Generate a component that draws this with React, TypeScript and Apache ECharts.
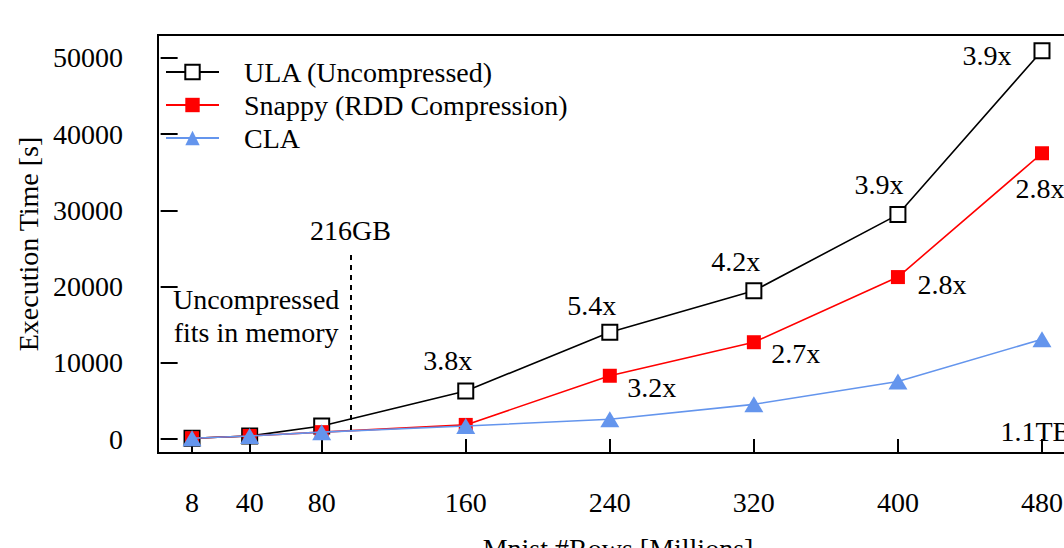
import React, { useEffect, useRef } from "react";
import * as echarts from "echarts";

const rows = [8, 40, 80, 160, 240, 320, 400, 480];
const ulaTimes = [100, 400, 1700, 6300, 14000, 19450, 29450, 50950];
const snappyTimes = [100, 400, 900, 1850, 8300, 12700, 21250, 37500];
const claTimes = [100, 400, 900, 1700, 2600, 4550, 7550, 13100];
const ulaSpeedups = ["", "", "", "3.8x", "5.4x", "4.2x", "3.9x", "3.9x"];
const snappySpeedups = ["", "", "", "", "3.2x", "2.7x", "2.8x", "2.8x"];
const yTicks = [0, 10000, 20000, 30000, 40000, 50000];
const seriesNames = ["ULA (Uncompressed)", "Snappy (RDD Compression)", "CLA"];
const memoryLimitRows = 96;
const memoryLimitLabel = "216GB";
const memoryNote = "Uncompressed\nfits in memory";
const sizeNote = "1.1TB";

const FONT = "Liberation Serif";
const ulaOffsets: number[][] = [[0, 0], [0, 0], [0, 0], [-18, -30], [-18, -27], [-18, -29], [-19, -30], [-55, 5]];
const snappyOffsets: number[][] = [[0, 0], [0, 0], [0, 0], [0, 0], [42, 12], [42, 11], [44, 7], [-2, 35]];

function points(vals: number[], texts: string[], offsets: number[][]) {
  return rows.map((x, i) => ({
    value: [x, vals[i]],
    label: texts[i]
      ? {
          show: true,
          formatter: texts[i],
          position: "inside",
          offset: offsets[i],
          align: "center",
          verticalAlign: "middle",
          color: "#000",
          fontSize: 28,
          fontFamily: FONT,
        }
      : { show: false },
  }));
}

export default function App() {
  const ref = useRef<HTMLDivElement>(null);
  useEffect(() => {
    if (!ref.current) return;
    const chart = echarts.init(ref.current, null, { renderer: "svg" });
    const textStyle = { color: "#000", fontSize: 28, fontFamily: FONT };
    chart.setOption({
      animation: false,
      backgroundColor: "#fff",
      textStyle: { fontFamily: FONT },
      grid: {
        left: 158,
        top: 35,
        width: 920,
        height: 418,
        outerBoundsMode: "none",
        containLabel: false,
        show: true,
        borderColor: "#000",
        borderWidth: 2,
        backgroundColor: "transparent",
      },
      legend: {
        data: seriesNames,
        left: 165,
        top: 58,
        orient: "vertical",
        padding: 0,
        itemWidth: 53,
        itemHeight: 18,
        itemGap: 5,
        textStyle: { ...textStyle, lineHeight: 28, padding: [0, 0, 0, 20] },
      },
      xAxis: {
        type: "value",
        min: -10.9,
        max: 500,
        offset: 3,
        name: "Mnist #Rows [Millions]",
        nameLocation: "middle",
        nameGap: 78,
        nameTextStyle: textStyle,
        axisLine: { show: false },
        axisTick: { show: true, length: 15, lineStyle: { color: "#000", width: 2 }, customValues: rows },
        axisLabel: { ...textStyle, margin: 32, customValues: rows, formatter: (v: number) => String(v) },
        splitLine: { show: false },
      },
      yAxis: {
        type: "value",
        min: -1837,
        max: 53018,
        name: "Execution Time [s]",
        nameLocation: "middle",
        nameGap: 116,
        nameTextStyle: textStyle,
        axisLine: { show: false },
        axisTick: { show: true, length: 17, lineStyle: { color: "#000", width: 2 }, customValues: yTicks },
        axisLabel: { ...textStyle, margin: 35, customValues: yTicks, formatter: (v: number) => String(v) },
        splitLine: { show: false },
      },
      series: [
        {
          name: seriesNames[0],
          type: "line",
          data: points(ulaTimes, ulaSpeedups, ulaOffsets),
          symbol: "emptyRect",
          symbolSize: 15,
          lineStyle: { color: "#000", width: 1.6 },
          itemStyle: { color: "#000", borderWidth: 2 },
          z: 2,
        },
        {
          name: seriesNames[1],
          type: "line",
          data: points(snappyTimes, snappySpeedups, snappyOffsets),
          symbol: "rect",
          symbolSize: 14,
          lineStyle: { color: "#f00", width: 1.6 },
          itemStyle: { color: "#f00" },
          z: 3,
        },
        {
          name: seriesNames[2],
          type: "line",
          data: rows.map((x, i) => [x, claTimes[i]]),
          symbol: "triangle",
          symbolSize: [19, 16],
          lineStyle: { color: "#6495ED", width: 1.6 },
          itemStyle: { color: "#6495ED" },
          z: 4,
          markLine: {
            silent: true,
            symbol: "none",
            lineStyle: { color: "#000", type: [5, 5], width: 2 },
            label: {
              show: true,
              position: "end",
              formatter: memoryLimitLabel,
              distance: 6,
              ...textStyle,
            },
            data: [[{ coord: [memoryLimitRows, -130] }, { coord: [memoryLimitRows, 24800] }]],
          },
        },
        {
          name: "notes",
          type: "scatter",
          symbolSize: 0,
          silent: true,
          itemStyle: { opacity: 1 },
          data: [
            {
              value: [43.6, 16200],
              label: {
                show: true,
                formatter: memoryNote,
                position: "inside",
                align: "center",
                verticalAlign: "middle",
                lineHeight: 33,
                opacity: 1,
                ...textStyle,
              },
            },
            {
              value: [456.9, 920],
              label: {
                show: true,
                formatter: sizeNote,
                position: "inside",
                align: "left",
                verticalAlign: "middle",
                opacity: 1,
                ...textStyle,
              },
            },
          ],
        },
      ],
    });
    return () => chart.dispose();
  }, []);
  return <div ref={ref} style={{ width: 1064, height: 548, position: "absolute", left: 0, top: 0 }} />;
}
